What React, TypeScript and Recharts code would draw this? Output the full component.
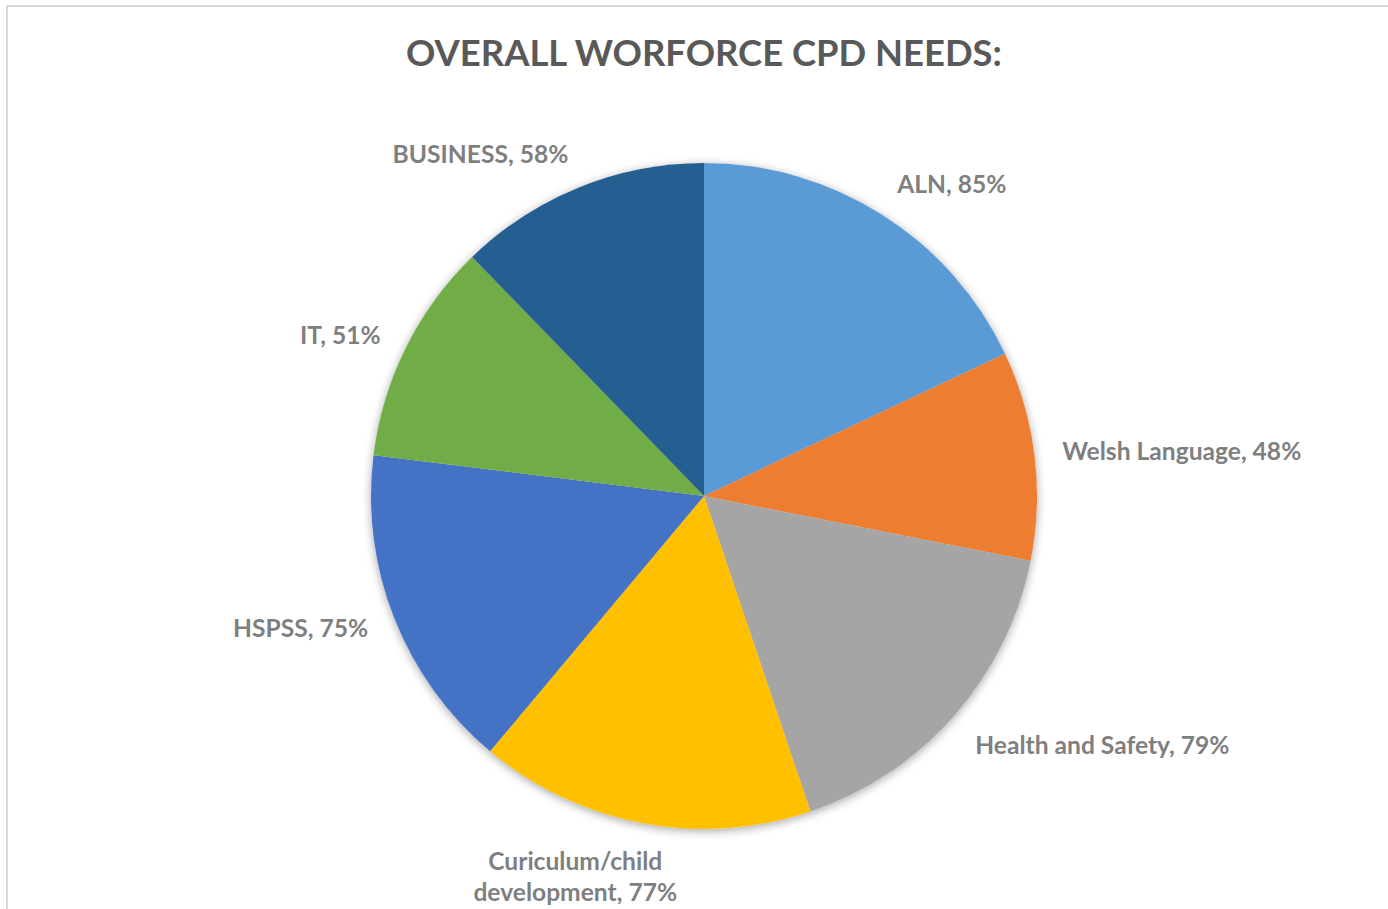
import React from "react";
import { PieChart, Pie, Cell } from "recharts";

// CPD needs by area, clockwise from 12 o'clock
const categories = [
  "ALN",
  "Welsh Language",
  "Health and Safety",
  "Curiculum/child development",
  "HSPSS",
  "IT",
  "BUSINESS",
];
const percentages = [85, 48, 79, 77, 75, 51, 58];
const colors = ["#5B9BD5", "#ED7D31", "#A5A5A5", "#FFC000", "#4472C4", "#70AD47", "#255E91"];

const data = categories.map((name, i) => ({ name, value: percentages[i] }));

const FONT = "Lato, 'Open Sans', sans-serif";
const LABEL_SIZE = 24.6;
const RADIAN = Math.PI / 180;

// Excel nudged the wrapped bottom label a little to the left
const labelNudge: Record<string, number> = { "Curiculum/child development": -62 };

function renderLabel(props: any) {
  const { cx, cy, midAngle, outerRadius, name, value } = props;
  const r = outerRadius + 28;
  const cos = Math.cos(-midAngle * RADIAN);
  const sin = Math.sin(-midAngle * RADIAN);
  const ax = cx + r * cos + (labelNudge[name] ?? 0);
  const ay = cy + r * sin;

  const text = `${name}, ${value}%`;
  const lines =
    name.length > 24
      ? [name.slice(0, name.indexOf(" ")), `${name.slice(name.indexOf(" ") + 1)}, ${value}%`]
      : [text];

  const anchor = lines.length > 1 ? "middle" : cos >= 0 ? "start" : "end";
  const lineH = 31;
  let firstBaseline: number;
  if (sin < -0.5) firstBaseline = ay + 2 - (lines.length - 1) * lineH; // label above
  else if (sin > 0.5) firstBaseline = ay + LABEL_SIZE - 5; // label below
  else firstBaseline = ay + LABEL_SIZE * 0.35;

  return (
    <text
      x={ax}
      y={firstBaseline}
      textAnchor={anchor}
      fill="#7F7F7F"
      fontFamily={FONT}
      fontWeight={700}
      fontSize={LABEL_SIZE}
    >
      {lines.map((l, i) => (
        <tspan key={i} x={ax} dy={i === 0 ? 0 : lineH}>
          {l}
        </tspan>
      ))}
    </text>
  );
}

export default function App() {
  return (
    <div
      style={{
        position: "absolute",
        left: 0,
        top: 0,
        width: 1388,
        height: 909,
        overflow: "hidden",
        background: "#fff",
      }}
    >
      <div
        style={{
          position: "absolute",
          left: 6,
          top: 5,
          width: 1500,
          height: 1000,
          border: "2px solid #D9D9D9",
        }}
      />
      <div
        style={{
          position: "absolute",
          left: 0,
          top: 27,
          width: 1408,
          textAlign: "center",
          fontFamily: FONT,
          fontWeight: 700,
          fontSize: 36.4,
          color: "#595959",
          lineHeight: "50px",
        }}
      >
        OVERALL WORFORCE CPD NEEDS:
      </div>
      <div style={{ position: "absolute", left: 0, top: 0 }}>
        <PieChart width={1388} height={909} margin={{ top: 0, right: 0, bottom: 0, left: 0 }}>
          <Pie
            data={data}
            dataKey="value"
            nameKey="name"
            cx={704}
            cy={496}
            outerRadius={333}
            startAngle={90}
            endAngle={-270}
            stroke="none"
            isAnimationActive={false}
            labelLine={false}
          >
            {data.map((d) => (
              <Cell
                key={d.name}
                fill="#fff"
                style={{ filter: "drop-shadow(0px 2px 5px rgba(0,0,0,0.35))" }}
              />
            ))}
          </Pie>
          <Pie
            data={data}
            dataKey="value"
            nameKey="name"
            cx={704}
            cy={496}
            outerRadius={333}
            startAngle={90}
            endAngle={-270}
            stroke="none"
            isAnimationActive={false}
            labelLine={false}
            label={renderLabel}
          >
            {data.map((d, i) => (
              <Cell key={d.name} fill={colors[i]} />
            ))}
          </Pie>
        </PieChart>
      </div>
    </div>
  );
}
